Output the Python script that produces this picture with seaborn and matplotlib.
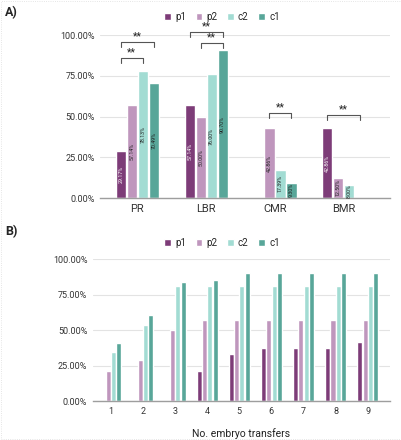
import pandas as pd
import numpy as np
import matplotlib
matplotlib.use("Agg")
import matplotlib.pyplot as plt
import seaborn as sns
from matplotlib.ticker import FuncFormatter
from matplotlib.patches import Rectangle

# data
groups = ["p1", "p2", "c2", "c1"]
colors = ["#7d3c78", "#bf96bd", "#a2dcd3", "#58a699"]

outcomes = ["PR", "LBR", "CMR", "BMR"]
p1_a = [29.17, 57.14, 0.0, 42.86]
p2_a = [57.14, 50.00, 42.86, 12.50]
c2_a = [78.13, 76.00, 17.39, 8.00]
c1_a = [70.49, 90.70, 9.30, 0.0]

transfers = ["1", "2", "3", "4", "5", "6", "7", "8", "9"]
p1_b = [0.0, 0.0, 0.0, 21.2, 33.4, 37.5, 37.5, 37.5, 41.9]
p2_b = [21.4, 28.9, 50.0, 57.1, 57.1, 57.1, 57.1, 57.1, 57.1]
c2_b = [34.6, 53.4, 81.3, 81.3, 81.3, 81.3, 81.3, 81.3, 81.3]
c1_b = [41.2, 60.9, 83.8, 85.2, 90.4, 90.4, 90.4, 90.4, 90.4]

# significance brackets: (category, from group, to group)
sig_pairs = [("PR", "p1", "c2"), ("PR", "p1", "c1"),
             ("LBR", "p1", "c1"), ("LBR", "p2", "c1"),
             ("CMR", "p2", "c1"), ("BMR", "p1", "c1")]
sig_levels = [86, 95.7, 101.8, 95.1, 52.1, 50.9]


def to_long(cats, series, catname):
    rows = []
    for g, vals in zip(groups, series):
        for c, v in zip(cats, vals):
            rows.append({catname: c, "group": g, "value": v})
    return pd.DataFrame(rows)


df_a = to_long(outcomes, [p1_a, p2_a, c2_a, c1_a], "outcome")
df_b = to_long(transfers, [p1_b, p2_b, c2_b, c1_b], "transfers")

sns.set_theme(style="whitegrid")
plt.rcParams["font.family"] = ["Roboto", "DejaVu Sans"]

fig = plt.figure(figsize=(4.02, 4.4), dpi=100)
fig.patch.set_facecolor("white")
ax1 = fig.add_axes([0.249, 0.55, 0.721, 0.37])
ax2 = fig.add_axes([0.231, 0.0886, 0.739, 0.3225])

pal = dict(zip(groups, colors))
pct = FuncFormatter(lambda v, p: "%.2f%%" % v)


def style_axis(ax):
    ax.set_ylim(0, 100)
    ax.set_yticks([0, 25, 50, 75, 100])
    ax.yaxis.set_major_formatter(pct)
    ax.grid(axis="y", color="#e3e3e3", linewidth=0.8)
    ax.grid(axis="x", visible=False)
    for s in ["left", "right", "top"]:
        ax.spines[s].set_visible(False)
    ax.spines["bottom"].set_color("#9e9e9e")
    ax.spines["bottom"].set_linewidth(1.0)
    ax.tick_params(axis="both", length=0, colors="#333333")
    ax.tick_params(axis="y", labelsize=6.5, pad=4)
    ax.set_ylabel("")


sns.barplot(data=df_a, x="outcome", y="value", hue="group", palette=pal,
            width=0.64, gap=0.08, ax=ax1, legend=True, saturation=1)
style_axis(ax1)
ax1.set_xlim(-0.54, 3.67)
ax1.set_xlabel("")
ax1.tick_params(axis="x", labelsize=8, pad=4)

# value labels inside bars
for h, cont in enumerate(ax1.containers):
    for bar in cont:
        v = bar.get_height()
        if v <= 0:
            continue
        ax1.text(bar.get_x() + bar.get_width() / 2, v / 2, "%.2f%%" % v,
                 rotation=90, ha="center", va="center", fontsize=3.8,
                 color="white" if h == 0 else "#222222")

# brackets
for (cat, g1, g2), lvl in zip(sig_pairs, sig_levels):
    i = outcomes.index(cat)
    b1 = ax1.containers[groups.index(g1)][i]
    b2 = ax1.containers[groups.index(g2)][i]
    x1 = b1.get_x() + b1.get_width() / 2
    x2 = b2.get_x() + b2.get_width() / 2
    ax1.plot([x1, x1, x2, x2], [lvl - 3.2, lvl, lvl, lvl - 3.2], color="#555555",
             linewidth=0.8, clip_on=False)
    ax1.text((x1 + x2) / 2, lvl + 0.5, "**", ha="center", va="bottom",
             fontsize=7.5, color="#222222")

sns.barplot(data=df_b, x="transfers", y="value", hue="group", palette=pal,
            width=0.66, gap=0.05, ax=ax2, legend=True, saturation=1)
style_axis(ax2)
ax2.set_xlim(-0.56, 8.69)
ax2.tick_params(axis="x", labelsize=6.5, pad=4)
ax2.set_xlabel("No. embryo transfers", fontsize=7.5, color="#222222", labelpad=9)

for ax, ypos in [(ax1, 0.961), (ax2, 0.448)]:
    handles, labels = ax.get_legend_handles_labels()
    ax.legend(handles, labels, loc="center", bbox_to_anchor=(0.552, ypos),
              bbox_transform=fig.transFigure, ncol=4, frameon=False,
              fontsize=7, handlelength=0.7, handleheight=0.7,
              handletextpad=0.4, columnspacing=1.0, borderpad=0)

fig.text(0.012, 0.972, "A)", fontsize=9, fontweight="bold", va="center")
fig.text(0.012, 0.473, "B)", fontsize=9, fontweight="bold", va="center")

# faint dotted frame around the image
fig.patches.append(Rectangle((0.002, 0.002), 0.996, 0.996, transform=fig.transFigure,
                             fill=False, edgecolor="#dddddd", linestyle=":",
                             linewidth=0.6))

fig.savefig("out.png", dpi=100, facecolor="white")
